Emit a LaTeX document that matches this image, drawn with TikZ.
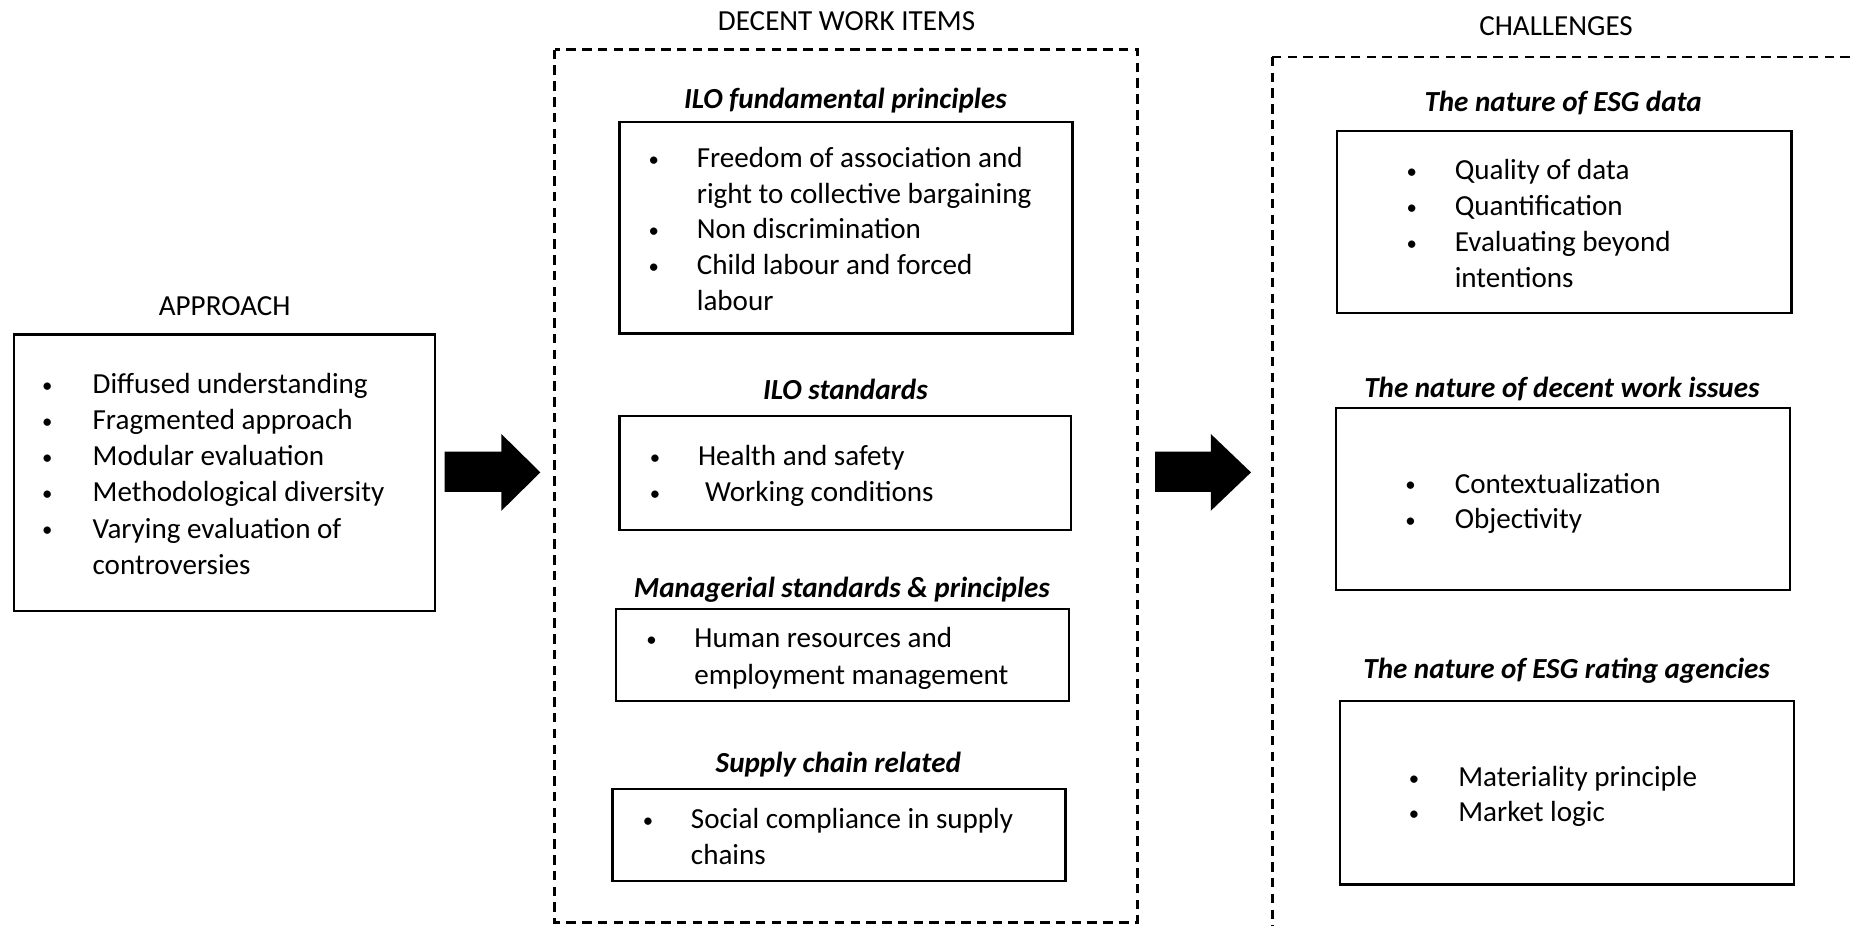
\documentclass[tikz,border=0pt]{standalone}
\usepackage{fontspec}
\setmainfont{Carlito}
\begin{document}
\begin{tikzpicture}[
    box/.style={draw, line width=1.1pt, inner sep=0pt},
    dashbox/.style={line width=1.2pt, dash pattern=on 4.6pt off 3pt},
    head/.style={anchor=base, inner sep=0pt, font=\fontsize{14}{17}\selectfont},
    ttl/.style={anchor=base, inner sep=0pt, font=\fontsize{14}{17}\selectfont\bfseries\itshape},
    bul/.style={anchor=base, inner sep=0pt, yshift=0.6pt, font=\fontsize{10}{12}\selectfont},
    txt/.style={anchor=base west, inner sep=0pt, font=\fontsize{14}{17}\selectfont}]
    \useasboundingbox (0,0) rectangle (31.36,-15.66);
    \clip (0,0) rectangle (31.36,-15.66);

    \path (3.80,-5.34) node[head] (apprh) {APPROACH};
    \node[box, minimum width=7.12cm, minimum height=4.68cm] (appr) at (3.80,-8.00) {};
    \path (0.80,-6.66) node[bul] (a1b) {•};
    \path (1.56,-6.66) node[txt] (a1) {Diffused understanding};
    \path (0.80,-7.27) node[bul] (a2b) {•};
    \path (1.56,-7.27) node[txt] (a2) {Fragmented approach};
    \path (0.80,-7.88) node[bul] (a3b) {•};
    \path (1.56,-7.88) node[txt] (a3) {Modular evaluation};
    \path (0.80,-8.49) node[bul] (a4b) {•};
    \path (1.56,-8.49) node[txt] (a4) {Methodological diversity};
    \path (0.80,-9.10) node[bul] (a5b) {•};
    \path (1.56,-9.10) node[txt] (a5) {Varying evaluation of};
    \path (1.56,-9.71) node[txt] (a6) {controversies};

    \fill (7.52,-7.64) -- (8.48,-7.64) -- (8.48,-7.34) -- (9.14,-7.99)
      -- (8.48,-8.64) -- (8.48,-8.32) -- (7.52,-8.32) -- cycle;

    \path (14.32,-0.51) node[head] (dwh) {DECENT WORK ITEMS};
    \draw[dashbox] (9.38,-0.84) rectangle (19.24,-15.60);

    \path (14.30,-1.84) node[ttl] (ilot) {ILO fundamental principles};
    \node[box, minimum width=7.66cm, minimum height=3.58cm] (ilo) at (14.31,-3.85) {};
    \path (11.06,-2.84) node[bul] (i1b) {•};
    \path (11.78,-2.84) node[txt] (i1) {Freedom of association and};
    \path (11.78,-3.44) node[txt] (i2) {right to collective bargaining};
    \path (11.06,-4.04) node[bul] (i3b) {•};
    \path (11.78,-4.04) node[txt] (i3) {Non discrimination};
    \path (11.06,-4.64) node[bul] (i4b) {•};
    \path (11.78,-4.64) node[txt] (i4) {Child labour and forced};
    \path (11.78,-5.26) node[txt] (i5) {labour};

    \path (14.30,-6.76) node[ttl] (stdt) {ILO standards};
    \node[box, minimum width=7.64cm, minimum height=1.92cm] (std) at (14.30,-8.00) {};
    \path (11.08,-7.88) node[bul] (s1b) {•};
    \path (11.80,-7.88) node[txt] (s1) {Health and safety};
    \path (11.08,-8.48) node[bul] (s2b) {•};
    \path (11.92,-8.48) node[txt] (s2) {Working conditions};

    \path (14.24,-10.10) node[ttl] (mant) {Managerial standards \& principles};
    \node[box, minimum width=7.66cm, minimum height=1.56cm] (man) at (14.25,-11.08) {};
    \path (11.02,-10.96) node[bul] (m1b) {•};
    \path (11.74,-10.96) node[txt] (m1) {Human resources and};
    \path (11.74,-11.58) node[txt] (m2) {employment management};

    \path (14.18,-13.06) node[ttl] (supt) {Supply chain related};
    \node[box, minimum width=7.66cm, minimum height=1.56cm] (sup) at (14.19,-14.12) {};
    \path (10.96,-14.02) node[bul] (u1b) {•};
    \path (11.68,-14.02) node[txt] (u1) {Social compliance in supply};
    \path (11.68,-14.62) node[txt] (u2) {chains};

    \fill (19.54,-7.64) -- (20.48,-7.64) -- (20.48,-7.34) -- (21.16,-7.99)
      -- (20.48,-8.64) -- (20.48,-8.32) -- (19.54,-8.32) -- cycle;

    \path (26.32,-0.60) node[head] (chh) {CHALLENGES};
    \draw[dashbox] (21.52,-0.96) rectangle (32.00,-16.20);

    \path (26.44,-1.88) node[ttl] (esgt) {The nature of ESG data};
    \node[box, minimum width=7.68cm, minimum height=3.08cm] (esg) at (26.46,-3.76) {};
    \path (23.88,-3.04) node[bul] (e1b) {•};
    \path (24.60,-3.04) node[txt] (e1) {Quality of data};
    \path (23.88,-3.65) node[bul] (e2b) {•};
    \path (24.60,-3.65) node[txt] (e2) {Quantification};
    \path (23.88,-4.26) node[bul] (e3b) {•};
    \path (24.60,-4.26) node[txt] (e3) {Evaluating beyond};
    \path (24.60,-4.87) node[txt] (e4) {intentions};

    \path (26.42,-6.72) node[ttl] (dect) {The nature of decent work issues};
    \node[box, minimum width=7.68cm, minimum height=3.08cm] (dec) at (26.44,-8.44) {};
    \path (23.86,-8.34) node[bul] (d1b) {•};
    \path (24.60,-8.34) node[txt] (d1) {Contextualization};
    \path (23.86,-8.94) node[bul] (d2b) {•};
    \path (24.60,-8.94) node[txt] (d2) {Objectivity};

    \path (26.50,-11.48) node[ttl] (ratt) {The nature of ESG rating agencies};
    \node[box, minimum width=7.68cm, minimum height=3.10cm] (rat) at (26.50,-13.41) {};
    \path (23.92,-13.30) node[bul] (r1b) {•};
    \path (24.66,-13.30) node[txt] (r1) {Materiality principle};
    \path (23.92,-13.90) node[bul] (r2b) {•};
    \path (24.66,-13.90) node[txt] (r2) {Market logic};
  \end{tikzpicture}
\end{document}
